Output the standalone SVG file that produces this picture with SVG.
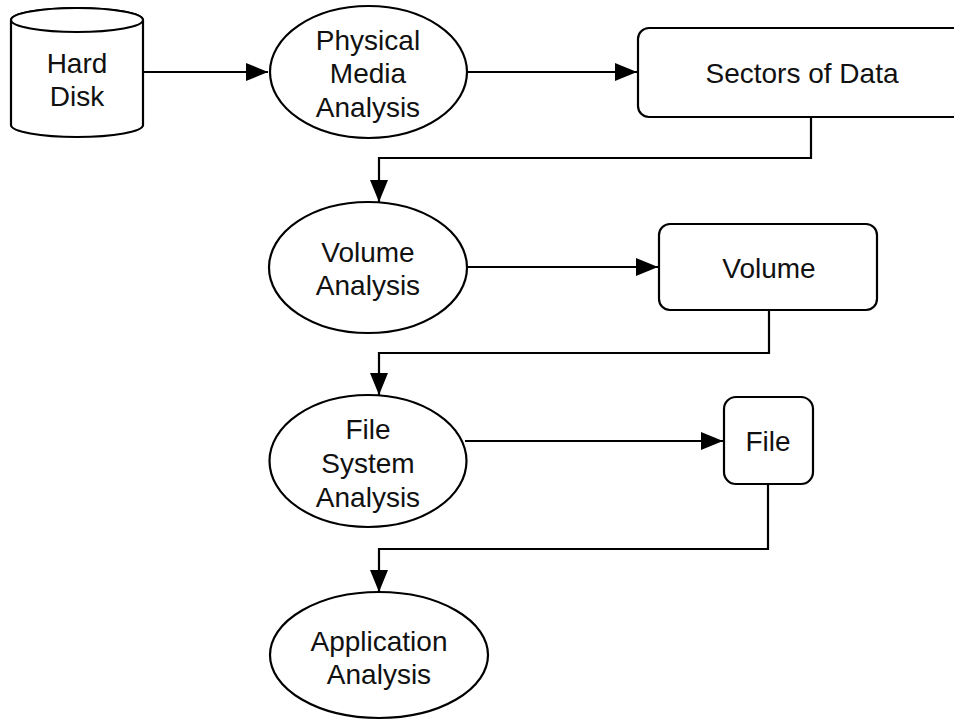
<svg xmlns="http://www.w3.org/2000/svg" width="954" height="720" viewBox="0 0 954 720">
<style>
.shape{fill:#fff;stroke:#000;stroke-width:2.2}
.conn{fill:none;stroke:#000;stroke-width:2.2}
text{font-family:"Liberation Sans",Arial,Helvetica,sans-serif;font-size:28px;fill:#111;text-anchor:middle}
</style>
<defs>
<marker id="arr" markerWidth="22" markerHeight="18" refX="22" refY="9" orient="auto" markerUnits="userSpaceOnUse">
<path d="M0,0 L22,9 L0,18 Z" fill="#000"/>
</marker>
</defs>
<rect width="954" height="720" fill="#fff"/>
<g id="connectors">
<line class="conn" x1="143" y1="72" x2="268" y2="72" marker-end="url(#arr)"/>
<line class="conn" x1="467" y1="72" x2="637" y2="72" marker-end="url(#arr)"/>
<polyline class="conn" points="811,117 811,158 379,158 379,202" marker-end="url(#arr)"/>
<line class="conn" x1="467" y1="267" x2="658" y2="267" marker-end="url(#arr)"/>
<polyline class="conn" points="769,310 769,353 379,353 379,395" marker-end="url(#arr)"/>
<line class="conn" x1="465" y1="441" x2="723" y2="441" marker-end="url(#arr)"/>
<polyline class="conn" points="768,484 768,549 379,549 379,592" marker-end="url(#arr)"/>
</g>
<g id="hard-disk">
<path class="shape" d="M11,20 L11,125 A66,12 0 0 0 143,125 L143,20 A66,12 0 0 0 11,20 Z"/>
<ellipse class="shape" cx="77" cy="20" rx="66" ry="12"/>
<text x="77" y="73">Hard</text>
<text x="77" y="106">Disk</text>
</g>
<g id="physical-media-analysis">
<ellipse class="shape" cx="368.5" cy="72" rx="98.5" ry="66"/>
<text x="368" y="50">Physical</text>
<text x="368" y="83">Media</text>
<text x="368" y="117">Analysis</text>
</g>
<g id="sectors-of-data">
<rect class="shape" x="638" y="28" width="328" height="89" rx="11"/>
<text x="802" y="83">Sectors of Data</text>
</g>
<g id="volume-analysis">
<ellipse class="shape" cx="368" cy="267.5" rx="99" ry="65.5"/>
<text x="368" y="262">Volume</text>
<text x="368" y="295">Analysis</text>
</g>
<g id="volume">
<rect class="shape" x="659" y="224" width="218" height="86" rx="11"/>
<text x="769" y="278">Volume</text>
</g>
<g id="file-system-analysis">
<ellipse class="shape" cx="368" cy="461" rx="98.5" ry="66"/>
<text x="368" y="439">File</text>
<text x="368" y="473">System</text>
<text x="368" y="507">Analysis</text>
</g>
<g id="file">
<rect class="shape" x="724" y="397" width="89" height="87" rx="12"/>
<text x="768" y="451">File</text>
</g>
<g id="application-analysis">
<ellipse class="shape" cx="379" cy="655" rx="109" ry="63"/>
<text x="379" y="651">Application</text>
<text x="379" y="684">Analysis</text>
</g>
</svg>
